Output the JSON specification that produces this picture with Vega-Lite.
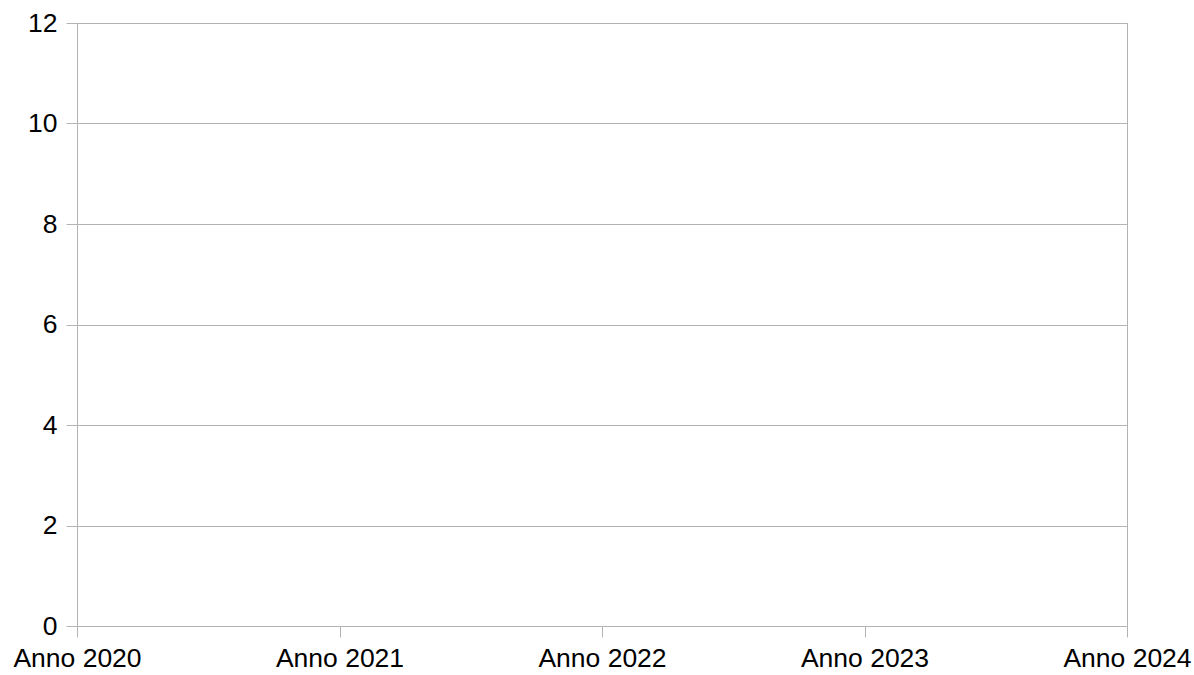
{
  "$schema": "https://vega.github.io/schema/vega-lite/v6.json",
  "autosize": {"type": "none"},
  "padding": {"left": 77, "top": 23, "right": 67, "bottom": 49},
  "width": 1050,
  "height": 603,
  "background": "white",
  "config": {
    "view": {"stroke": "#b3b3b3", "strokeWidth": 1},
    "font": "Liberation Sans",
    "axis": {
      "labelFont": "Liberation Sans",
      "labelFontSize": 26.5,
      "labelColor": "#000000",
      "domainColor": "#b3b3b3",
      "tickColor": "#b3b3b3",
      "gridColor": "#b3b3b3",
      "tickSize": 11,
      "title": null
    }
  },
  "data": {
    "values": [
      {"anno": "Anno 2020", "valore": null},
      {"anno": "Anno 2021", "valore": null},
      {"anno": "Anno 2022", "valore": null},
      {"anno": "Anno 2023", "valore": null},
      {"anno": "Anno 2024", "valore": null}
    ]
  },
  "mark": {"type": "line", "color": "#004586"},
  "encoding": {
    "x": {
      "field": "anno",
      "type": "ordinal",
      "scale": {"type": "point", "padding": 0, "domain": ["Anno 2020", "Anno 2021", "Anno 2022", "Anno 2023", "Anno 2024"]},
      "axis": {"labelAngle": 0, "grid": false, "labelPadding": 8, "labelOverlap": false, "labelBound": false}
    },
    "y": {
      "field": "valore",
      "type": "quantitative",
      "scale": {"domain": [0, 12], "nice": false, "zero": true},
      "axis": {"values": [0, 2, 4, 6, 8, 10, 12], "grid": true, "labelPadding": 9}
    }
  }
}
